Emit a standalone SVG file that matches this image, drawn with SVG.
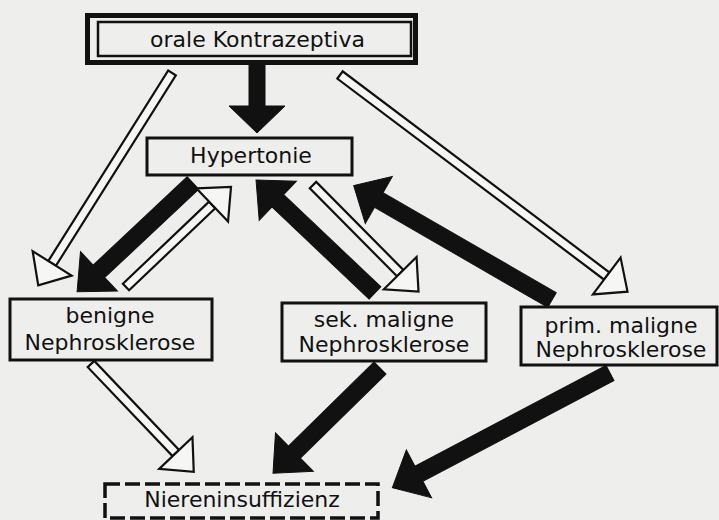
<svg xmlns="http://www.w3.org/2000/svg" width="719" height="520" viewBox="0 0 719 520">
<style>
.bg{fill:#eeeeec}
.box{fill:none;stroke:#111;stroke-width:3}
.t{font-family:"DejaVu Sans","Liberation Sans",sans-serif;font-size:22px;fill:#111;text-anchor:middle}
.blk{fill:#111;stroke:#111;stroke-width:1;stroke-linejoin:miter}
.wht{fill:#f6f6f4;stroke:#111;stroke-width:2.2;stroke-linejoin:miter}
</style>
<rect class="bg" x="0" y="0" width="719" height="520"/>
<g id="connectors">
  <!-- orale -> Hypertonie -->
  <path class="blk" transform="translate(257,64) rotate(90)" d="M0,-8 H42 V-28 L69,0 L42,28 V8 H0 Z"/>
  <!-- orale -> benigne -->
  <g transform="translate(172,73) rotate(122.2)"><path class="wht" d="M0,-4.5 H225 V4.5 H0 Z"/><path class="wht" d="M225,-23 L251,0 L225,23 Z"/></g>
  <!-- orale -> prim. maligne -->
  <g transform="translate(340,75) rotate(37)"><path class="wht" d="M0,-4.5 H334 V4.5 H0 Z"/><path class="wht" d="M334,-23 L360,0 L334,23 Z"/></g>
  <!-- Hypertonie -> benigne -->
  <path class="blk" transform="translate(193,183) rotate(136.8)" d="M0,-8.5 H129 V-27 L159,0 L129,27 V8.5 H0 Z"/>
  <!-- benigne -> Hypertonie -->
  <g transform="translate(126,287) rotate(-43.6)"><path class="wht" d="M0,-4.5 H119 V4.5 H0 Z"/><path class="wht" d="M119,-23 L145,0 L119,23 Z"/></g>
  <!-- sek. maligne -> Hypertonie -->
  <path class="blk" transform="translate(375,293) rotate(-136.5)" d="M0,-8.5 H134 V-27 L164,0 L134,27 V8.5 H0 Z"/>
  <!-- Hypertonie -> sek. maligne -->
  <g transform="translate(313,185) rotate(45.3)"><path class="wht" d="M0,-4.5 H124 V4.5 H0 Z"/><path class="wht" d="M124,-23 L150,0 L124,23 Z"/></g>
  <!-- prim. maligne -> Hypertonie -->
  <path class="blk" transform="translate(552,300) rotate(-150)" d="M0,-8.5 H200 V-27 L229,0 L200,27 V8.5 H0 Z"/>
  <!-- benigne -> Niereninsuffizienz -->
  <g transform="translate(91,364) rotate(46.4)"><path class="wht" d="M0,-4.5 H123 V4.5 H0 Z"/><path class="wht" d="M123,-23 L149,0 L123,23 Z"/></g>
  <!-- sek. maligne -> Niereninsuffizienz -->
  <path class="blk" transform="translate(380,368) rotate(135.5)" d="M0,-8.5 H120 V-27 L150,0 L120,27 V8.5 H0 Z"/>
  <!-- prim. maligne -> Niereninsuffizienz -->
  <path class="blk" transform="translate(610,373) rotate(152.2)" d="M0,-8.5 H216 V-27 L246,0 L216,27 V8.5 H0 Z"/>
</g>
<g id="orale">
  <rect x="87.5" y="15.5" width="328" height="47" fill="none" stroke="#111" stroke-width="5"/>
  <rect x="98" y="22" width="313" height="34" fill="none" stroke="#111" stroke-width="2.5"/>
  <text class="t" x="257.5" y="47">orale Kontrazeptiva</text>
</g>
<g id="hypertonie">
  <rect class="box" x="147" y="138" width="205" height="37"/>
  <text class="t" x="251" y="163">Hypertonie</text>
</g>
<g id="benigne">
  <rect class="box" x="10" y="299" width="202" height="61"/>
  <text class="t" x="110" y="323">benigne</text>
  <text class="t" x="110" y="350">Nephrosklerose</text>
</g>
<g id="sek">
  <rect class="box" x="282" y="303" width="204" height="58"/>
  <text class="t" x="384" y="327">sek. maligne</text>
  <text class="t" x="384" y="352">Nephrosklerose</text>
</g>
<g id="prim">
  <rect class="box" x="521" y="307" width="196" height="58"/>
  <text class="t" x="621" y="333">prim. maligne</text>
  <text class="t" x="621" y="357">Nephrosklerose</text>
</g>
<g id="niereninsuffizienz">
  <rect x="105" y="484" width="273" height="34" fill="none" stroke="#111" stroke-width="3.5" stroke-dasharray="15 5"/>
  <text class="t" x="242" y="507">Niereninsuffizienz</text>
</g>
</svg>
